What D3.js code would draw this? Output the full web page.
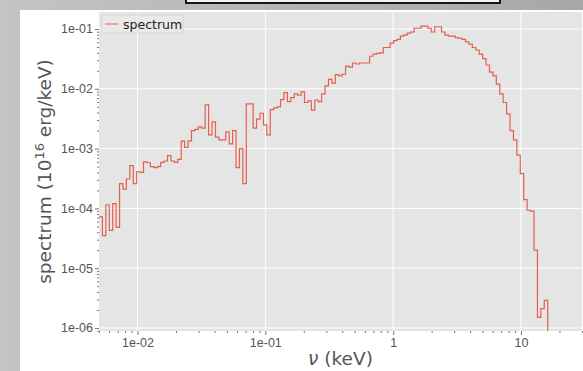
<!DOCTYPE html>
<html>
<head>
<meta charset="utf-8">
<script src="https://cdn.jsdelivr.net/npm/d3@7"></script>
<style>
  body { margin: 0; }
  svg { display: block; font-family: "DejaVu Sans", sans-serif; }
</style>
</head>
<body>
<div id="chart"></div>
<script>
// histogram binning: log-spaced bins starting at 0.005 keV
const binStart = 0.005;
const binLogWidth = 0.026793;

// spectrum value in each bin (10^16 erg/keV)
const spectrum = [
  7.2e-5, 3.5e-5, 1.15e-4, 4.3e-5, 1.2e-4, 4.8e-5, 2.6e-4, 2.1e-4, 3.1e-4, 5.2e-4,
  2.6e-4, 4.1e-4, 4.0e-4, 6.0e-4, 5.8e-4, 5.0e-4, 4.8e-4, 5.0e-4, 5.9e-4, 6.2e-4,
  7.6e-4, 6.2e-4, 5.9e-4, 6.6e-4, 1.33e-3, 1.05e-3, 1.35e-3, 2.0e-3, 2.1e-3, 2.3e-3,
  2.2e-3, 5.4e-3, 1.7e-3, 2.8e-3, 1.55e-3, 1.4e-3, 1.4e-3, 1.9e-3, 1.2e-3, 2.0e-3,
  4.8e-4, 1.0e-3, 2.6e-4, 5.6e-3, 5.6e-3, 2.2e-3, 3.1e-3, 3.9e-3, 2.5e-3, 1.7e-3,
  4.5e-3, 4.8e-3, 5.0e-3, 6.6e-3, 8.6e-3, 6.1e-3, 7.1e-3, 8.2e-3, 7.8e-3, 8.9e-3,
  5.9e-3, 6.3e-3, 4.4e-3, 6.5e-3, 6.1e-3, 8.2e-3, 1.12e-2, 1.44e-2, 1.24e-2, 1.72e-2,
  1.65e-2, 1.75e-2, 2.4e-2, 2.3e-2, 2.7e-2, 2.6e-2, 2.7e-2, 2.7e-2, 2.7e-2, 3.5e-2,
  3.8e-2, 3.9e-2, 4.0e-2, 4.9e-2, 4.9e-2, 5.8e-2, 6.4e-2, 6.7e-2, 7.6e-2, 8.0e-2,
  8.5e-2, 8.9e-2, 1.03e-1, 1.03e-1, 1.12e-1, 1.12e-1, 1.03e-1, 8.9e-2, 1.09e-1, 1.09e-1,
  8.9e-2, 7.9e-2, 7.6e-2, 7.6e-2, 7.2e-2, 7.0e-2, 6.7e-2, 6.1e-2, 5.6e-2, 4.9e-2,
  4.45e-2, 3.8e-2, 3.2e-2, 2.5e-2, 1.9e-2, 1.64e-2, 1.2e-2, 8.2e-3, 5.9e-3, 3.8e-3,
  2.0e-3, 1.4e-3, 7.8e-4, 3.8e-4, 1.4e-4, 9.3e-5, 9.0e-5, 2.0e-5, 1.5e-6, 2.1e-6,
  2.9e-6
];

const xTickValues = [0.01, 0.1, 1, 10];
const xTickLabels = ["1e-02", "1e-01", "1", "10"];
const yTickValues = [1e-1, 1e-2, 1e-3, 1e-4, 1e-5, 1e-6];
const yTickLabels = ["1e-01", "1e-02", "1e-03", "1e-04", "1e-05", "1e-06"];

const width = 583;
const height = 371;
const plot = { left: 99, right: 582, top: 12, bottom: 331 };

// bin edges (one more than the number of bins)
const edges = d3.range(spectrum.length + 1).map(k => binStart * Math.pow(10, k * binLogWidth));

const xScale = d3.scaleLog()
  .domain([0.005, 30])
  .range([plot.left, plot.right]);

const yScale = d3.scaleLog()
  .domain([8.9e-7, 0.1924])
  .range([plot.bottom, plot.top]);

const svg = d3.select("#chart")
  .append("svg")
  .attr("width", width)
  .attr("height", height);

// surrounding screenshot frame
const grad = svg.append("defs").append("linearGradient")
  .attr("id", "frame")
  .attr("x1", "0%").attr("x2", "100%");
grad.append("stop").attr("offset", "0%").attr("stop-color", "#c4c4c4");
grad.append("stop").attr("offset", "100%").attr("stop-color", "#a7a7a7");

svg.append("rect")
  .attr("width", width).attr("height", height)
  .attr("fill", "url(#frame)");

svg.append("rect")
  .attr("x", 20).attr("y", 10)
  .attr("width", width - 20).attr("height", height - 10)
  .attr("fill", "white");

svg.append("rect")
  .attr("x", 186).attr("y", -6)
  .attr("width", 314).attr("height", 9)
  .attr("fill", "#f4f4f4")
  .attr("stroke", "black")
  .attr("stroke-width", 1.8);

svg.append("clipPath").attr("id", "clip")
  .append("rect")
  .attr("x", plot.left).attr("y", plot.top)
  .attr("width", plot.right - plot.left).attr("height", plot.bottom - plot.top);

// axes background
svg.append("rect")
  .attr("x", plot.left).attr("y", plot.top)
  .attr("width", plot.right - plot.left).attr("height", plot.bottom - plot.top)
  .attr("fill", "#e5e5e5");

// grid lines
svg.selectAll("line.xgrid")
  .data(xTickValues)
  .join("line")
  .attr("class", "xgrid")
  .attr("x1", d => xScale(d)).attr("x2", d => xScale(d))
  .attr("y1", plot.top).attr("y2", plot.bottom)
  .attr("stroke", "white").attr("stroke-width", 1);

svg.selectAll("line.ygrid")
  .data(yTickValues)
  .join("line")
  .attr("class", "ygrid")
  .attr("x1", plot.left).attr("x2", plot.right)
  .attr("y1", d => yScale(d)).attr("y2", d => yScale(d))
  .attr("stroke", "white").attr("stroke-width", 1);

// minor ticks
const xMinor = xScale.ticks().filter(d => !xTickValues.includes(d) && Math.abs(Math.log10(d) % 1) > 1e-6);
const yMinor = yScale.ticks().filter(d => Math.abs(Math.log10(d) - Math.round(Math.log10(d))) > 1e-6);

const styleAxis = g => {
  g.select(".domain").remove();
  g.selectAll(".tick line").attr("stroke", "#555").attr("stroke-width", 0.8);
  g.selectAll(".tick text").attr("fill", "#555").style("font-size", "12.5px");
};

svg.append("g")
  .attr("transform", `translate(0,${plot.bottom})`)
  .call(d3.axisBottom(xScale).tickValues(xMinor).tickSize(2).tickFormat(""))
  .call(styleAxis);

svg.append("g")
  .attr("transform", `translate(${plot.left},0)`)
  .call(d3.axisLeft(yScale).tickValues(yMinor).tickSize(2).tickFormat(""))
  .call(styleAxis);

svg.append("g")
  .attr("transform", `translate(0,${plot.bottom})`)
  .call(d3.axisBottom(xScale).tickValues(xTickValues).tickSize(4).tickPadding(3)
    .tickFormat((d, i) => xTickLabels[i]))
  .call(styleAxis);

svg.append("g")
  .attr("transform", `translate(${plot.left},0)`)
  .call(d3.axisLeft(yScale).tickValues(yTickValues).tickSize(4).tickPadding(2)
    .tickFormat((d, i) => yTickLabels[i]))
  .call(styleAxis);

// step histogram
const points = spectrum.map((v, i) => [edges[i], v]);
points.push([edges[spectrum.length], spectrum[spectrum.length - 1]]);
points.push([edges[spectrum.length], 1e-9]);

const stepLine = d3.line()
  .x(d => xScale(d[0]))
  .y(d => yScale(d[1]))
  .curve(d3.curveStepAfter);

svg.append("path")
  .datum(points)
  .attr("clip-path", "url(#clip)")
  .attr("d", stepLine)
  .attr("fill", "none")
  .attr("stroke", "#E24A33")
  .attr("stroke-opacity", 0.85)
  .attr("stroke-width", 1.2);

// legend
svg.append("rect")
  .attr("x", 102).attr("y", 15)
  .attr("width", 81).attr("height", 18)
  .attr("rx", 2)
  .attr("fill", "#e9e9e9")
  .attr("stroke", "#d2d2d2")
  .attr("stroke-width", 0.8);

svg.append("line")
  .attr("x1", 105).attr("x2", 118)
  .attr("y1", 24).attr("y2", 24)
  .attr("stroke", "#E24A33")
  .attr("stroke-opacity", 0.7)
  .attr("stroke-width", 1.2);

svg.append("text")
  .attr("x", 123).attr("y", 28.5)
  .style("font-size", "12.5px")
  .attr("fill", "#222")
  .text("spectrum");

// axis labels
const ylab = svg.append("text")
  .attr("transform", `translate(51,${(plot.top + plot.bottom) / 2}) rotate(-90)`)
  .attr("text-anchor", "middle")
  .attr("fill", "#555")
  .style("font-size", "18.5px");
ylab.append("tspan").text("spectrum (10");
ylab.append("tspan").attr("dy", -7).style("font-size", "13px").text("16");
ylab.append("tspan").attr("dy", 7).text(" erg/keV)");

const xlab = svg.append("text")
  .attr("x", (plot.left + plot.right) / 2)
  .attr("y", 365)
  .attr("text-anchor", "middle")
  .attr("fill", "#555")
  .style("font-size", "18.5px");
xlab.append("tspan").style("font-style", "italic").text("ν");
xlab.append("tspan").text(" (keV)");
</script>
</body>
</html>
